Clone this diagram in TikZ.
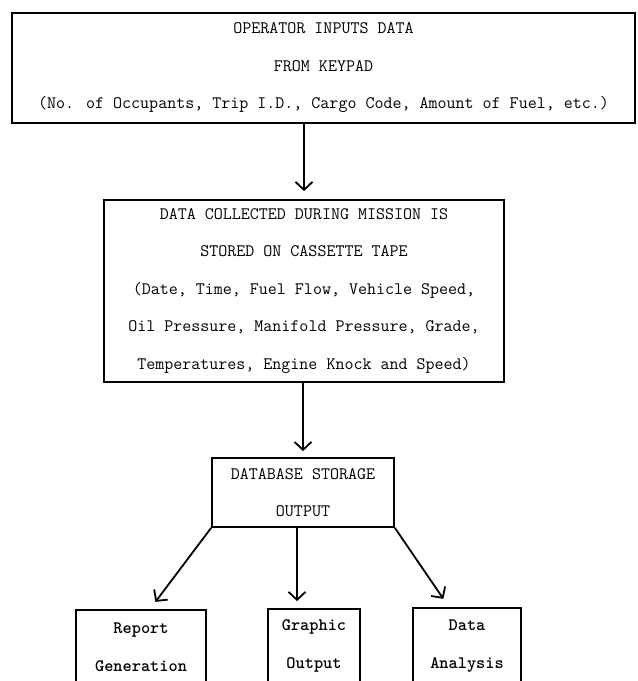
\documentclass[tikz,border=0pt]{standalone}
\usetikzlibrary{arrows.meta}
\begin{document}
\begin{tikzpicture}[x=1pt,y=-1pt,>={Straight Barb[length=8pt,width=17pt]},
  box/.style={draw,line width=1.8pt,inner sep=0pt,align=center,
    font=\fontsize{17.5}{37.5}\selectfont\ttfamily},
  outbox/.style={box,font=\fontsize{17.5}{37.5}\selectfont\ttfamily\bfseries},
  flow/.style={black,line width=1.8pt,->}]
%%
  \useasboundingbox (0,0) rectangle (638,681);

  \node (keypad) at (323.5,68) [box,minimum width=623pt,minimum height=110pt] {OPERATOR INPUTS DATA\\FROM KEYPAD\\(No. of Occupants, Trip I.D., Cargo Code, Amount of Fuel, etc.)};
  \node (mission) at (304,291) [box,minimum width=400pt,minimum height=182pt] {DATA COLLECTED DURING MISSION IS\\STORED ON CASSETTE TAPE\\(Date, Time, Fuel Flow, Vehicle Speed,\\Oil Pressure, Manifold Pressure, Grade,\\Temperatures, Engine Knock and Speed)};
  \node (dbase) at (303,492.5) [box,minimum width=182pt,minimum height=69pt] {DATABASE STORAGE\\OUTPUT};
  \node (report) at (141,647) [outbox,minimum width=130pt,minimum height=74pt] {Report\\Generation};
  \node (graphic) at (314,646) [outbox,minimum width=92pt,minimum height=74pt] {Graphic\\Output};
  \node (analysis) at (467,646) [outbox,minimum width=108pt,minimum height=76pt] {Data\\Analysis};

  \draw [flow,shorten >=8pt] (mission.north |- keypad.south) -- (mission.north);
  \draw [flow,shorten >=6pt] (dbase.north |- mission.south) -- (dbase.north);
  \draw [flow,shorten >=9pt] (dbase.south west) -- ([xshift=9pt]report.north);
  \draw [flow,shorten >=7pt] ([xshift=-6pt]dbase.south) -- ([xshift=-6pt]dbase.south |- graphic.north);
  \draw [flow,shorten >=10pt] (dbase.south east) -- ([xshift=-18pt]analysis.north);

\end{tikzpicture}
\end{document}
